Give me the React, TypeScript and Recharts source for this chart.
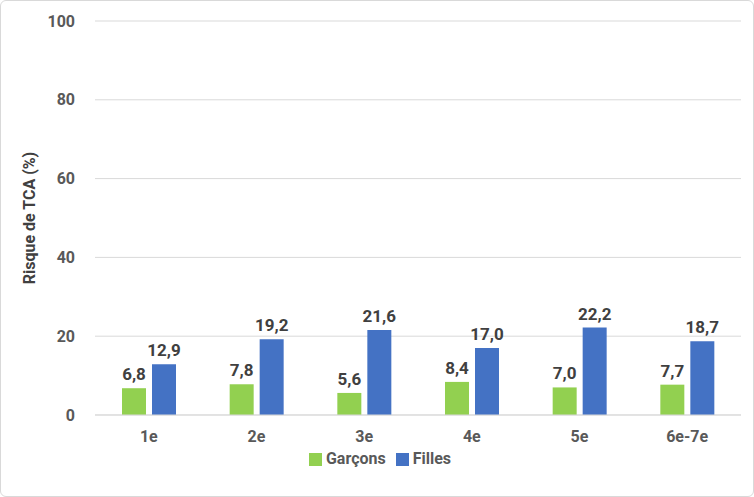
import { Bar, BarChart, CartesianGrid, LabelList, Legend, XAxis, YAxis } from "recharts";

const CATEGORIES = ["1e", "2e", "3e", "4e", "5e", "6e-7e"];
const GARCONS = [6.8, 7.8, 5.6, 8.4, 7.0, 7.7];
const FILLES = [12.9, 19.2, 21.6, 17.0, 22.2, 18.7];
const Y_TICKS = [0, 20, 40, 60, 80, 100];

const TEXT = "#595959";
const fmt = (v: number) => v.toFixed(1).replace(".", ",");

export default function App() {
  const data = CATEGORIES.map((c, i) => ({ cat: c, a: GARCONS[i], b: FILLES[i] }));
  return (
    <div
      style={{
        position: "absolute",
        left: 0,
        top: 0,
        width: 752,
        height: 495,
        border: "1px solid #d9d9d9",
        borderRadius: 6,
        background: "#fff",
        fontFamily: "Roboto, 'Open Sans', sans-serif",
      }}
    >
      <BarChart
        width={752}
        height={495}
        data={data}
        margin={{ top: 20, right: 12, left: 28, bottom: 28 }}
        barGap={6}
        barSize={24}
      >
        <CartesianGrid stroke="#d9d9d9" vertical={false} />
        <XAxis
          dataKey="cat"
          tickLine={false}
          axisLine={{ stroke: "#d9d9d9" }}
          tick={{ fill: TEXT, fontSize: 16, fontWeight: 700 }}
          tickMargin={10}
          height={34}
        />
        <YAxis
          domain={[0, 100]}
          ticks={Y_TICKS}
          axisLine={false}
          tickLine={false}
          width={66}
          tick={{ fill: TEXT, fontSize: 16, fontWeight: 700 }}
          tickMargin={14}
          label={{
            value: "Risque de TCA (%)",
            angle: -90,
            position: "insideLeft",
            offset: 0,
            style: { fill: "#404040", fontSize: 16, fontWeight: 700, textAnchor: "middle" },
          }}
        />
        <Legend
          verticalAlign="bottom"
          iconType="square"
          iconSize={13}
          itemSorter="dataKey"
          wrapperStyle={{ fontSize: 16, fontWeight: 700 }}
          formatter={(v) => <span style={{ color: TEXT }}>{v}</span>}
        />
        <Bar dataKey="a" name="Garçons" fill="#92d050" isAnimationActive={false}>
          <LabelList dataKey="a" position="top" offset={8} formatter={fmt} style={{ fill: "#404040", fontSize: 17, fontWeight: 700 }} />
        </Bar>
        <Bar dataKey="b" name="Filles" fill="#4472c4" isAnimationActive={false}>
          <LabelList dataKey="b" position="top" offset={8} formatter={fmt} style={{ fill: "#404040", fontSize: 17, fontWeight: 700 }} />
        </Bar>
      </BarChart>
    </div>
  );
}
